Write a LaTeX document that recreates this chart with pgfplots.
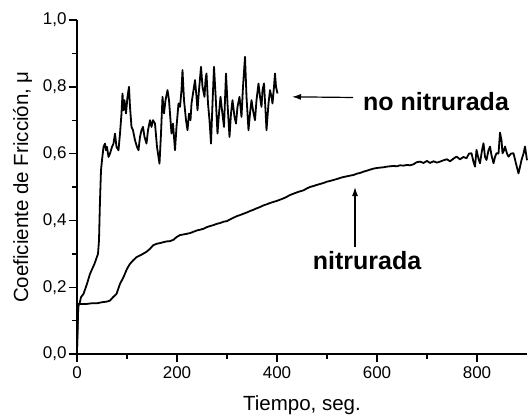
\documentclass[border=0pt]{standalone}
\usepackage{fontspec}
\setmainfont{Liberation Sans}
\usepackage{pgfplots}
\pgfplotsset{compat=1.18}
\usetikzlibrary{arrows.meta}

\begin{document}
\begin{tikzpicture}
% fixed page box: axis lower left at (0,0)
\path[use as bounding box] (-77pt,-62pt) rectangle (452pt,354pt);
\begin{axis}[
    at={(0pt,0pt)}, anchor=south west,
    scale only axis,
    width=450pt, height=334pt,
    xmin=0, xmax=900, ymin=0, ymax=1.0,
    axis lines=left,
    axis line style={-, line width=1.6pt},
    tick align=outside,
    tick style={line width=1.4pt, black},
    major tick length=8pt, minor tick length=4.5pt,
    xtick={0,200,...,800}, ytick={0,0.2,...,1.0},
    minor x tick num=1, minor y tick num=1,
    /pgf/number format/assume math mode=true,
    tick label style={font=\fontsize{17}{20}\selectfont},
    yticklabel style={xshift=1pt, /pgf/number format/.cd, fixed, fixed zerofill, precision=1, use comma},
    xticklabel style={yshift=-1pt},
    xlabel={Tiempo, seg.},
    ylabel={Coeficiente de Fricción, μ},
    label style={font=\fontsize{20.5}{24}\selectfont},
    xlabel style={yshift=-10pt},
    ylabel style={yshift=4pt},
    clip=false,
]
% no nitrurada
\addplot[black, line width=1.8pt, line join=round] coordinates {
(0,0.01)(1,0.06)(2,0.12)(3,0.15)(5,0.15)(8,0.17)(13,0.18)(20,0.21)(26,0.24)(35,0.27)(42,0.30)(44,0.34)(45,0.40)(46,0.46)(48,0.55)(50,0.58)(53,0.62)(56,0.63)(58,0.61)(60,0.62)(63,0.59)(66,0.60)(70,0.62)(73,0.63)(76,0.66)(79,0.62)(83,0.61)(86,0.66)(89,0.72)(91,0.78)(93,0.73)(95,0.76)(98,0.72)(101,0.77)(104,0.80)(106,0.74)(109,0.68)(112,0.67)(116,0.64)(120,0.62)(123,0.61)(126,0.65)(129,0.67)(132,0.68)(135,0.65)(139,0.63)(142,0.67)(146,0.70)(149,0.68)(152,0.70)(156,0.69)(160,0.62)(165,0.57)(168,0.66)(171,0.77)(174,0.72)(177,0.76)(181,0.79)(184,0.76)(187,0.70)(189,0.66)(192,0.69)(196,0.61)(199,0.68)(203,0.75)(206,0.74)(209,0.79)(211,0.85)(214,0.76)(218,0.70)(221,0.67)(224,0.72)(227,0.70)(229,0.75)(233,0.79)(236,0.82)(239,0.77)(241,0.73)(244,0.79)(248,0.86)(251,0.80)(255,0.77)(257,0.82)(259,0.84)(262,0.75)(265,0.70)(268,0.63)(271,0.75)(274,0.86)(277,0.78)(281,0.66)(284,0.72)(287,0.77)(290,0.73)(294,0.68)(296,0.76)(298,0.84)(301,0.75)(305,0.65)(308,0.72)(311,0.76)(315,0.71)(318,0.69)(321,0.74)(325,0.77)(327,0.74)(329,0.71)(332,0.80)(336,0.89)(339,0.77)(343,0.67)(346,0.72)(349,0.76)(352,0.73)(356,0.70)(359,0.76)(363,0.81)(366,0.77)(369,0.74)(371,0.79)(374,0.81)(377,0.73)(379,0.67)(383,0.75)(386,0.79)(389,0.77)(391,0.75)(394,0.80)(396,0.84)(398,0.80)(401,0.78)
};
% nitrurada
\addplot[black, line width=1.8pt, line join=round] coordinates {
(0,0.01)(1,0.08)(2,0.13)(3,0.15)(10,0.15)(20,0.15)(30,0.152)(40,0.152)(50,0.155)(60,0.157)(66,0.16)(72,0.17)(79,0.18)(86,0.21)(93,0.23)(100,0.255)(106,0.27)(112,0.28)(119,0.29)(126,0.295)(132,0.30)(139,0.306)(146,0.315)(152,0.325)(159,0.33)(166,0.332)(173,0.335)(179,0.337)(186,0.338)(193,0.342)(199,0.35)(206,0.356)(213,0.358)(220,0.36)(226,0.362)(233,0.366)(240,0.37)(246,0.372)(253,0.375)(260,0.38)(266,0.383)(273,0.386)(280,0.39)(286,0.392)(293,0.396)(300,0.398)(306,0.403)(313,0.408)(320,0.413)(326,0.416)(333,0.42)(340,0.424)(346,0.428)(353,0.432)(359,0.436)(366,0.44)(373,0.445)(379,0.448)(386,0.452)(392,0.455)(399,0.458)(406,0.462)(413,0.466)(420,0.471)(426,0.476)(433,0.48)(440,0.484)(446,0.487)(453,0.49)(460,0.496)(466,0.50)(473,0.503)(479,0.506)(486,0.509)(493,0.512)(500,0.516)(506,0.518)(513,0.521)(520,0.524)(526,0.527)(533,0.53)(540,0.532)(546,0.534)(553,0.536)(560,0.54)(566,0.542)(573,0.546)(580,0.549)(586,0.552)(593,0.555)(600,0.557)(606,0.558)(613,0.559)(620,0.561)(626,0.562)(633,0.563)(640,0.562)(646,0.565)(653,0.564)(660,0.566)(666,0.565)(673,0.568)(679,0.574)(686,0.576)(693,0.572)(700,0.578)(706,0.572)(713,0.577)(720,0.573)(726,0.576)(733,0.58)(740,0.583)(746,0.577)(753,0.585)(759,0.591)(766,0.583)(773,0.590)(779,0.586)(784,0.60)(789,0.601)(793,0.575)(796,0.561)(799,0.611)(803,0.585)(806,0.571)(810,0.61)(813,0.631)(816,0.59)(819,0.581)(823,0.61)(826,0.621)(829,0.595)(833,0.571)(836,0.59)(839,0.601)(843,0.60)(846,0.663)(849,0.64)(851,0.601)(854,0.61)(856,0.621)(860,0.60)(863,0.591)(868,0.60)(873,0.601)(878,0.57)(883,0.541)(886,0.56)(889,0.581)(893,0.60)(896,0.621)(900,0.58)
};
% annotations
\draw[line width=1.2pt, -{Latex[length=9pt,width=6pt]}] (axis cs:552,0.768) -- (axis cs:430,0.770);
\node[font=\fontsize{25}{28}\bfseries\selectfont] at (axis cs:718,0.757) {no nitrurada};
\draw[line width=1.2pt, -{Latex[length=9pt,width=6pt]}] (axis cs:556,0.32) -- (axis cs:556,0.50);
\node[font=\fontsize{25}{28}\bfseries\selectfont] at (axis cs:580,0.281) {nitrurada};
\end{axis}
\end{tikzpicture}
\end{document}
